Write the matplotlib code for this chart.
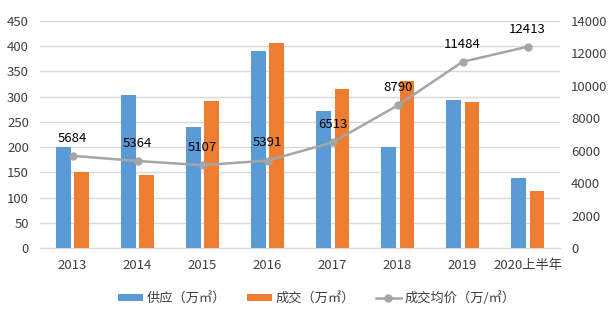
import numpy as np
import matplotlib
matplotlib.use("Agg")
import matplotlib.pyplot as plt

plt.rcParams['font.family'] = ['Noto Sans CJK SC', 'DejaVu Sans']

years = ['2013', '2014', '2015', '2016', '2017', '2018', '2019', '2020上半年']
supply = [200, 304, 239, 391, 271, 201, 294, 139]
deal = [151, 144, 292, 407, 316, 332, 290, 112]
price = [5684, 5364, 5107, 5391, 6513, 8790, 11484, 12413]

blue = '#5B9BD5'
orange = '#ED7D31'
gray = '#A5A5A5'
txt = '#404040'

fig = plt.figure(figsize=(6.09, 3.28), dpi=100)
ax = fig.add_axes([0.0657, 0.244, 0.854, 0.692])
ax2 = ax.twinx()

x = np.arange(len(years))
w = 0.23
ax.bar(x - 0.145, supply, w, color=blue, label='供应（万㎡）', zorder=3)
ax.bar(x + 0.145, deal, w, color=orange, label='成交（万㎡）', zorder=3)

ax2.plot(x, price, color=gray, lw=1.8, marker='o', ms=5, label='成交均价（万/㎡）', zorder=4)
for xi, p in zip(x, price):
    ax2.annotate(str(p), (xi, p), xytext=(0, 8), textcoords='offset points',
                 ha='center', va='bottom', fontsize=9.5, color='#000000')

ax.set_xlim(-0.5, len(years) - 0.5)
ax.set_ylim(0, 450)
ax.set_yticks(range(0, 451, 50))
ax2.set_ylim(0, 14000)
ax2.set_yticks(range(0, 14001, 2000))
ax.set_xticks(x)
ax.set_xticklabels(years)

ax.grid(axis='y', color='#D9D9D9', lw=1, zorder=0)
for a in (ax, ax2):
    for s in a.spines.values():
        s.set_visible(False)
    a.tick_params(length=0, labelsize=9.5, colors=txt)
ax.spines['bottom'].set_visible(True)
ax.spines['bottom'].set_color('#D9D9D9')
ax.tick_params(axis='y', pad=8)
ax.tick_params(axis='x', pad=8)
ax2.tick_params(axis='y', pad=8)

h1, l1 = ax.get_legend_handles_labels()
h2, l2 = ax2.get_legend_handles_labels()
fig.legend(h1 + h2, l1 + l2, loc='center', bbox_to_anchor=(0.52, 0.09), ncol=3,
           frameon=False, fontsize=9.5, handlelength=1.9, handleheight=0.5,
           handletextpad=0.25, columnspacing=1.6, labelcolor=txt)

fig.savefig('out.png', dpi=100)
